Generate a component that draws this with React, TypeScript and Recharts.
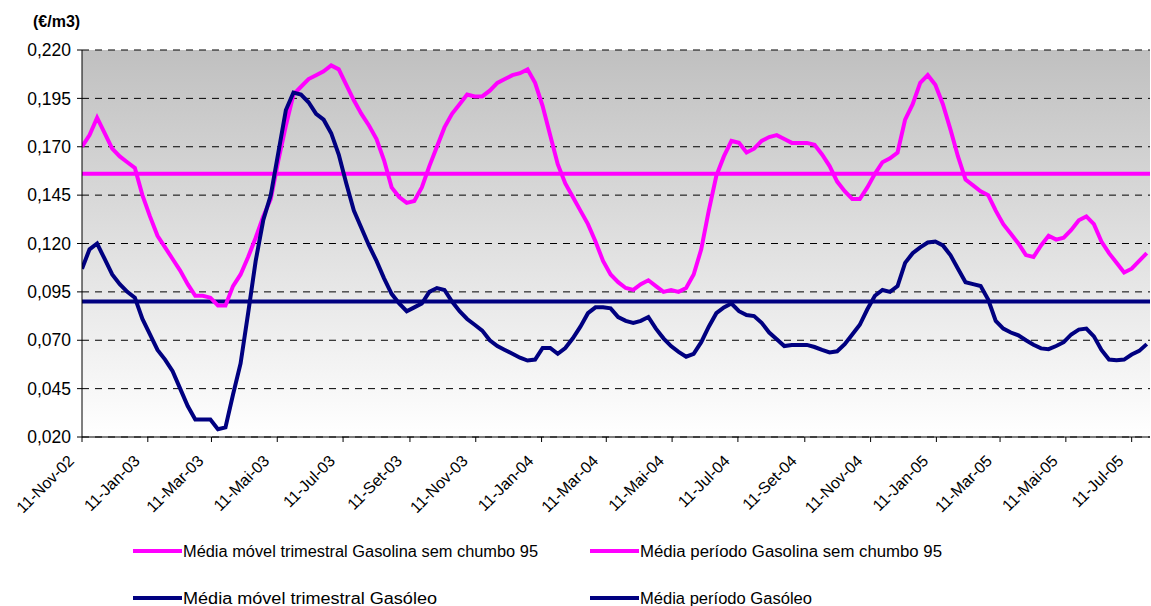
import React from 'react';
import { LineChart, Line, XAxis, YAxis, CartesianGrid, ReferenceLine } from 'recharts';

// Média móvel trimestral, valores semanais a partir de 11-Nov-02 (€/m3)
const gasolinaMovel = [
  0.170, 0.176, 0.185, 0.177, 0.169, 0.165, 0.162, 0.159, 0.145, 0.134,
  0.124, 0.118, 0.112, 0.106, 0.099, 0.093, 0.093, 0.092, 0.088, 0.088,
  0.098, 0.104, 0.113, 0.123, 0.134, 0.143, 0.163, 0.181, 0.197, 0.201,
  0.205, 0.207, 0.209, 0.212, 0.210, 0.202, 0.194, 0.187, 0.181, 0.174,
  0.163, 0.149, 0.144, 0.141, 0.142, 0.149, 0.160, 0.170, 0.180, 0.187,
  0.192, 0.197, 0.196, 0.196, 0.199, 0.203, 0.205, 0.207, 0.208, 0.210,
  0.203, 0.191, 0.176, 0.161, 0.151, 0.144, 0.137, 0.130, 0.121, 0.111,
  0.104, 0.100, 0.097, 0.096, 0.099, 0.101, 0.098, 0.095, 0.096, 0.095,
  0.097, 0.104, 0.117, 0.137, 0.155, 0.165, 0.173, 0.172, 0.167, 0.169,
  0.173, 0.175, 0.176, 0.174, 0.172, 0.172, 0.172, 0.171, 0.166, 0.160,
  0.152, 0.147, 0.143, 0.143, 0.149, 0.156, 0.162, 0.164, 0.167, 0.184,
  0.192, 0.203, 0.207, 0.202, 0.192, 0.179, 0.165, 0.153, 0.150, 0.147,
  0.145, 0.137, 0.130, 0.125, 0.120, 0.114, 0.113, 0.119, 0.124, 0.122,
  0.123, 0.127, 0.132, 0.134, 0.130, 0.121, 0.115, 0.110, 0.105, 0.107,
  0.111, 0.115,
];

const gasoleoMovel = [
  0.107, 0.117, 0.120, 0.112, 0.104, 0.099, 0.095, 0.092, 0.081, 0.073,
  0.065, 0.060, 0.054, 0.045, 0.036, 0.029, 0.029, 0.029, 0.024, 0.025,
  0.042, 0.058, 0.084, 0.111, 0.132, 0.145, 0.167, 0.189, 0.198, 0.197,
  0.193, 0.187, 0.184, 0.177, 0.166, 0.151, 0.137, 0.128, 0.119, 0.111,
  0.102, 0.094, 0.089, 0.085, 0.087, 0.089, 0.095, 0.097, 0.096, 0.090,
  0.085, 0.081, 0.078, 0.075, 0.070, 0.067, 0.065, 0.063, 0.061, 0.0595,
  0.060, 0.066, 0.066, 0.063, 0.066, 0.071, 0.077, 0.084, 0.087, 0.087,
  0.0865, 0.082, 0.080, 0.079, 0.080, 0.082, 0.076, 0.071, 0.067, 0.064,
  0.0615, 0.063, 0.069, 0.077, 0.084, 0.087, 0.089, 0.085, 0.083, 0.0825,
  0.079, 0.074, 0.0705, 0.067, 0.0675, 0.0676, 0.0676, 0.0665, 0.065, 0.0637,
  0.0643, 0.068, 0.073, 0.078, 0.086, 0.093, 0.096, 0.095, 0.098, 0.110,
  0.115, 0.118, 0.1205, 0.121, 0.119, 0.114, 0.107, 0.100, 0.099, 0.098,
  0.091, 0.080, 0.076, 0.074, 0.0725, 0.070, 0.0677, 0.0658, 0.0654, 0.067,
  0.069, 0.073, 0.0755, 0.076, 0.072, 0.065, 0.060, 0.0597, 0.060, 0.0626,
  0.0645, 0.068,
];

// médias do período
const gasolinaMedia = 0.156;
const gasoleoMedia = 0.090;

const inicio = '2002-11-11';
const tickDatas = [
  '2002-11-11', '2003-01-11', '2003-03-11', '2003-05-11', '2003-07-11', '2003-09-11',
  '2003-11-11', '2004-01-11', '2004-03-11', '2004-05-11', '2004-07-11', '2004-09-11',
  '2004-11-11', '2005-01-11', '2005-03-11', '2005-05-11', '2005-07-11',
];
const tickLabels = [
  '11-Nov-02', '11-Jan-03', '11-Mar-03', '11-Mai-03', '11-Jul-03', '11-Set-03',
  '11-Nov-03', '11-Jan-04', '11-Mar-04', '11-Mai-04', '11-Jul-04', '11-Set-04',
  '11-Nov-04', '11-Jan-05', '11-Mar-05', '11-Mai-05', '11-Jul-05',
];
const yTicks = [0.02, 0.045, 0.07, 0.095, 0.12, 0.145, 0.17, 0.195, 0.22];

const diaDe = (iso: string) =>
  Math.round((Date.parse(iso) - Date.parse(inicio)) / 86400000);

const tickDias = tickDatas.map(diaDe);

const data = gasolinaMovel.map((g, i) => ({
  dia: i * 7,
  gasolina: g,
  gasoleo: gasoleoMovel[i],
}));

const FONT = '"Liberation Sans", Arial, sans-serif';
const MAGENTA = '#FF00FF';
const NAVY = '#000080';

const DateTick = (props: any) => {
  const { x, y, payload } = props;
  const idx = tickDias.indexOf(payload.value);
  const ax = x - 7;
  const ay = y + 18;
  return (
    <text
      x={ax}
      y={ay}
      transform={`rotate(-45 ${ax} ${ay})`}
      textAnchor="end"
      fontSize={16}
      fontFamily={FONT}
      fill="#000"
    >
      {idx >= 0 ? tickLabels[idx] : ''}
    </text>
  );
};

const legendItems = [
  { x: 133, y: 551, color: MAGENTA, text: 'Média móvel trimestral Gasolina sem chumbo 95', w: 355 },
  { x: 590, y: 551, color: MAGENTA, text: 'Média período Gasolina sem chumbo 95', w: 302 },
  { x: 133, y: 598, color: NAVY, text: 'Média móvel trimestral Gasóleo', w: 254 },
  { x: 590, y: 598, color: NAVY, text: 'Média período Gasóleo', w: 172 },
];

export default function App() {
  return (
    <div style={{ position: 'absolute', left: 0, top: 0, width: 1151, height: 606, background: '#fff', fontFamily: FONT }}>
      <LineChart width={1151} height={606} data={data} margin={{ top: 50, right: 1, bottom: 0, left: 0 }}>
        <defs>
          <linearGradient id="fundo" x1="0" y1="0" x2="0" y2="1">
            <stop offset="0%" stopColor="#c0c0c0" />
            <stop offset="100%" stopColor="#ffffff" />
          </linearGradient>
        </defs>
        <CartesianGrid
          vertical={false}
          stroke="#000"
          strokeDasharray="7 6"
          fill="url(#fundo)"
          fillOpacity={1}
        />
        <XAxis
          type="number"
          dataKey="dia"
          domain={[0, 990]}
          ticks={tickDias}
          interval={0}
          height={169}
          tickSize={5}
          tickMargin={2}
          axisLine={{ stroke: '#000' }}
          tickLine={{ stroke: '#000' }}
          tick={<DateTick />}
          allowDataOverflow
        />
        <YAxis
          type="number"
          domain={[0.02, 0.22]}
          ticks={yTicks}
          interval={0}
          width={82}
          tickSize={5}
          tickMargin={6}
          axisLine={{ stroke: '#000' }}
          tickLine={{ stroke: '#000' }}
          tick={{ fill: '#000', fontSize: 17.5, fontFamily: FONT }}
          tickFormatter={(v: number) => v.toFixed(3).replace('.', ',')}
          allowDataOverflow
        />
        <ReferenceLine y={gasolinaMedia} stroke={MAGENTA} strokeWidth={4} />
        <ReferenceLine y={gasoleoMedia} stroke={NAVY} strokeWidth={4} />
        <Line
          type="linear"
          dataKey="gasolina"
          stroke={MAGENTA}
          strokeWidth={4}
          dot={false}
          isAnimationActive={false}
        />
        <Line
          type="linear"
          dataKey="gasoleo"
          stroke={NAVY}
          strokeWidth={4}
          dot={false}
          isAnimationActive={false}
        />
      </LineChart>
      <div style={{ position: 'absolute', left: 33, top: 13, fontSize: 16, fontWeight: 'bold', color: '#000' }}>
        (€/m3)
      </div>
      <svg width={1151} height={606} style={{ position: 'absolute', left: 0, top: 0, pointerEvents: 'none' }}>
        {legendItems.map((it) => (
          <g key={it.text}>
            <line x1={it.x} x2={it.x + 49} y1={it.y} y2={it.y} stroke={it.color} strokeWidth={4} />
            <text
              x={it.x + 50}
              y={it.y + 6}
              fontSize={16}
              fontFamily={FONT}
              fill="#000"
              textLength={it.w}
              lengthAdjust="spacingAndGlyphs"
            >
              {it.text}
            </text>
          </g>
        ))}
      </svg>
    </div>
  );
}
